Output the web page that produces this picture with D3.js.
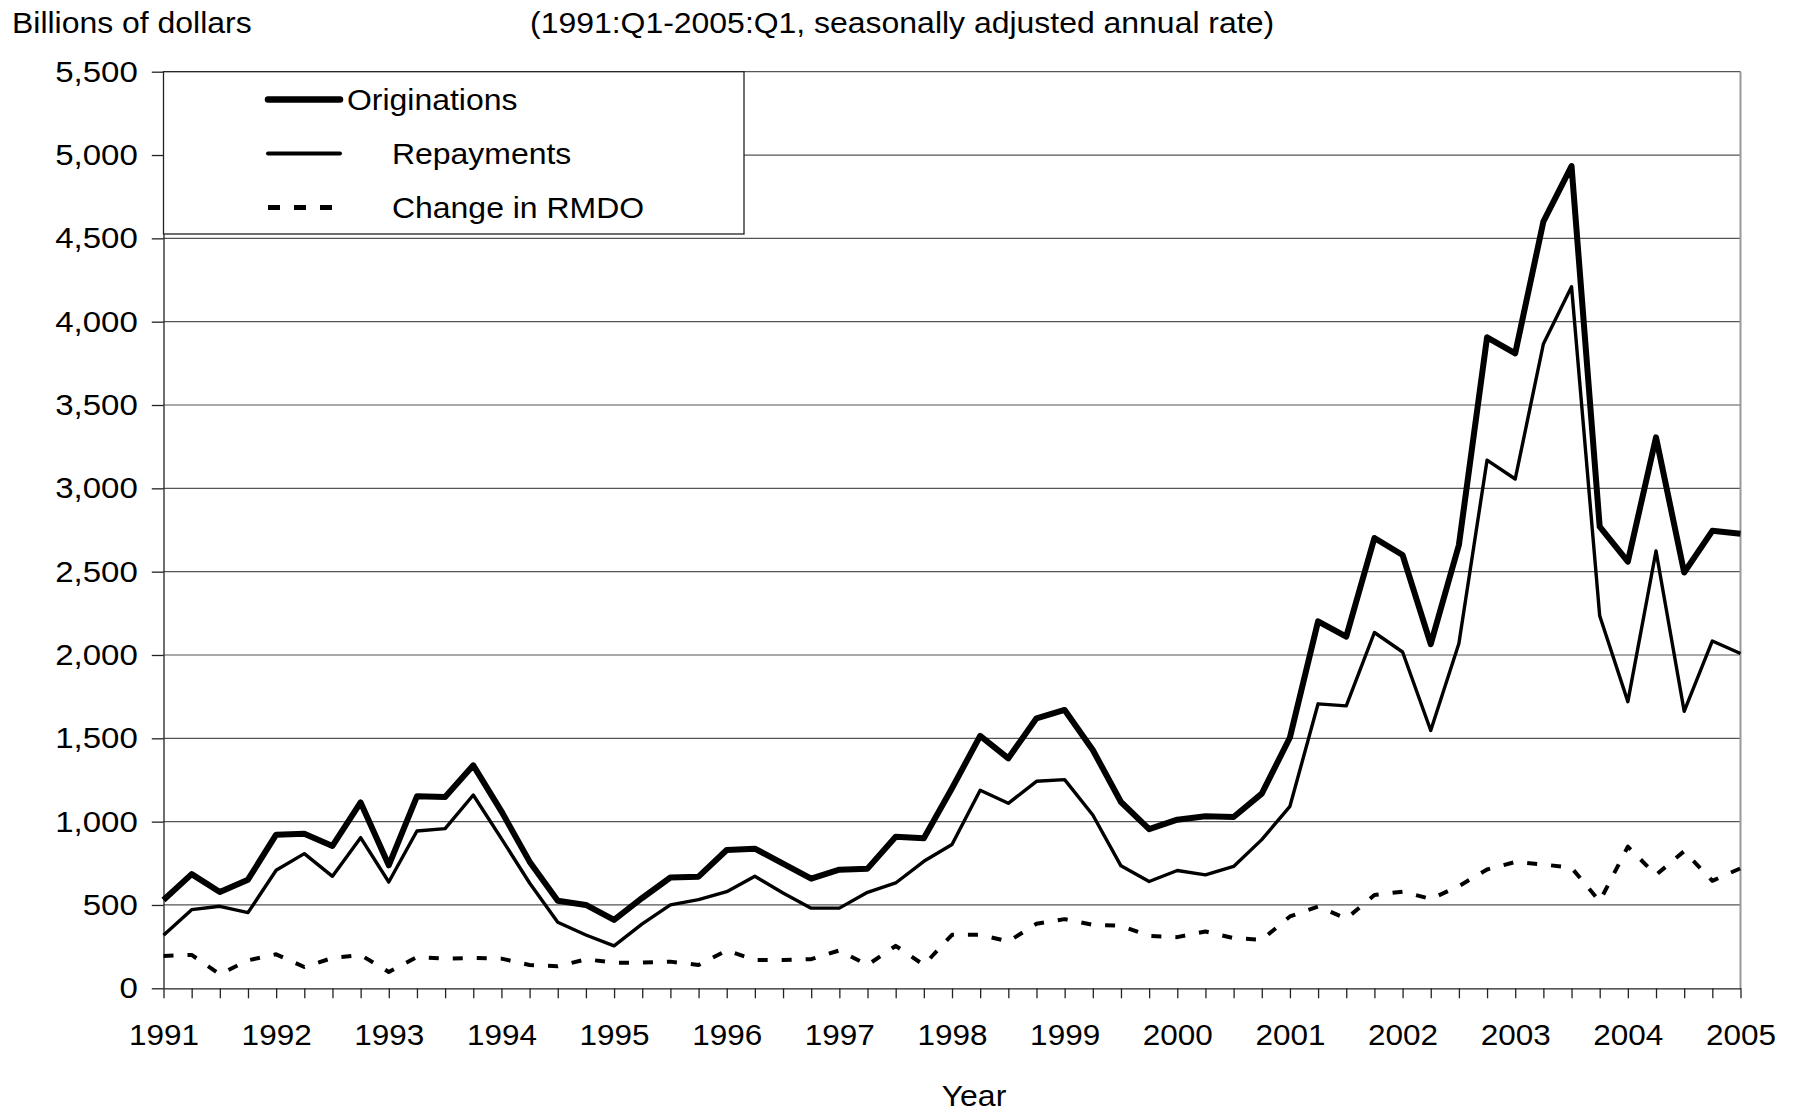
<!DOCTYPE html>
<html>
<head>
<meta charset="utf-8">
<script src="https://cdn.jsdelivr.net/npm/d3@7"></script>
<style>
  html, body { margin: 0; padding: 0; background: #fff; }
  svg text { font-family: "Liberation Sans", Arial, sans-serif; fill: #000; transform-box: fill-box; }
</style>
</head>
<body>
<div id="chart"></div>
<script>
// Quarterly values, 1991:Q1 .. 2005:Q1 (57 quarters), billions of dollars
const startYear = 1991;
const yearLabels = [1991, 1992, 1993, 1994, 1995, 1996, 1997, 1998, 1999, 2000, 2001, 2002, 2003, 2004, 2005];
const yTicks = [0, 500, 1000, 1500, 2000, 2500, 3000, 3500, 4000, 4500, 5000, 5500];

const originations = [
    530, 685, 578, 652, 922, 928, 854, 1115, 738, 1152, 1148, 1338,
    1062, 760, 525, 500, 410, 542, 665, 670, 830, 838, 748, 658,
    712, 718, 910, 900, 1200, 1515, 1380, 1620, 1670, 1430, 1118, 955,
    1012, 1032, 1028, 1168, 1505, 2202, 2110, 2702, 2600, 2065, 2660, 3906,
    3810, 4600, 4934, 2770, 2560, 3306, 2495, 2745, 2728
];
const repayments = [
    318, 472, 492, 454, 708, 808, 672, 904, 638, 944, 958, 1160,
    898, 632, 396, 320, 255, 387, 501, 532, 580, 672, 572, 481,
    481, 576, 632, 762, 863, 1188, 1110, 1242, 1252, 1040, 735, 641,
    707, 681, 731, 892, 1092, 1707, 1695, 2135, 2018, 1547, 2069, 3169,
    3056, 3866, 4210, 2235, 1720, 2624, 1662, 2084, 2009
];
const changeRMDO = [
    194, 200, 84, 168, 204, 128, 182, 200, 98, 188, 178, 182,
    178, 140, 132, 174, 154, 154, 160, 140, 227, 170, 170, 175,
    227, 140, 255, 140, 321, 321, 281, 387, 415, 381, 375, 315,
    307, 341, 301, 291, 431, 491, 418, 560, 580, 536, 613, 713,
    758, 743, 723, 522, 850, 680, 823, 645, 720
];

const seriesList = [
    {name: 'Originations', values: originations, width: 6, dash: null},
    {name: 'Repayments', values: repayments, width: 3.4, dash: null},
    {name: 'Change in RMDO', values: changeRMDO, width: 4, dash: '10,14'}
];

const W = 1797, H = 1114;
const plot = {left: 163.5, right: 1740.5, top: 71.7, bottom: 988.3};

// text in the original is a little wider than plain Arial
function widen(sel, k, origin) {
    sel.style('transform-origin', origin)
        .style('transform', `scaleX(${k})`);
}

const svg = d3.select('#chart')
    .append('svg')
    .attr('width', W)
    .attr('height', H);

// Scales (x in years, quarters as fractions)
const x = d3.scaleLinear()
    .domain([startYear, yearLabels[yearLabels.length - 1]])
    .range([plot.left, plot.right]);
const y = d3.scaleLinear()
    .domain([0, 5500])
    .range([plot.bottom, plot.top]);

const quarterTicks = d3.range(originations.length).map(i => startYear + i / 4);

// Gridlines
svg.append('g')
    .selectAll('line')
    .data(yTicks.filter(d => d > 0))
    .join('line')
    .attr('x1', plot.left)
    .attr('x2', plot.right)
    .attr('y1', d => y(d))
    .attr('y2', d => y(d))
    .attr('stroke', '#555')
    .attr('stroke-width', 1.2);

// Right border
svg.append('line')
    .attr('x1', plot.right).attr('x2', plot.right)
    .attr('y1', plot.top).attr('y2', plot.bottom)
    .attr('stroke', '#999')
    .attr('stroke-width', 2);

// Y axis
const yAxis = svg.append('g')
    .attr('transform', `translate(${plot.left},0)`)
    .call(d3.axisLeft(y)
        .tickValues(yTicks)
        .tickFormat(d3.format(','))
        .tickSize(11.7)
        .tickSizeOuter(0)
        .tickPadding(14));
yAxis.selectAll('text').style('font-size', '30px').call(widen, 1.1, 'right center');
yAxis.selectAll('line, path').attr('stroke', '#222').attr('stroke-width', 1.3);

// X axis: a tick every quarter, labels at year starts
const xAxis = svg.append('g')
    .attr('transform', `translate(0,${plot.bottom})`)
    .call(d3.axisBottom(x)
        .tickValues(quarterTicks)
        .tickFormat(d => Number.isInteger(d) ? String(d) : '')
        .tickSize(10)
        .tickSizeOuter(0)
        .tickPadding(25));
xAxis.selectAll('text').style('font-size', '30px').call(widen, 1.05, 'center');
xAxis.selectAll('line, path').attr('stroke', '#222').attr('stroke-width', 1.3);

// Titles
svg.append('text')
    .attr('x', 12)
    .attr('y', 33)
    .style('font-size', '30px')
    .text('Billions of dollars')
    .call(widen, 1.065, 'left center');

svg.append('text')
    .attr('x', 530)
    .attr('y', 33)
    .style('font-size', '30px')
    .text('(1991:Q1-2005:Q1, seasonally adjusted annual rate)')
    .call(widen, 1.065, 'left center');

svg.append('text')
    .attr('x', 974)
    .attr('y', 1106)
    .attr('text-anchor', 'middle')
    .style('font-size', '30px')
    .text('Year')
    .call(widen, 1.065, 'center');

// Legend box
const legend = svg.append('g');
legend.append('rect')
    .attr('x', plot.left)
    .attr('y', plot.top)
    .attr('width', 744 - plot.left)
    .attr('height', 234 - plot.top)
    .attr('fill', '#fff')
    .attr('stroke', '#222')
    .attr('stroke-width', 1.3);

const legendItems = [
    {s: seriesList[0], y: 99.5, textX: 347},
    {s: seriesList[1], y: 153.5, textX: 392},
    {s: seriesList[2], y: 207.5, textX: 392}
];

legendItems.forEach(item => {
    legend.append('line')
        .attr('x1', 268)
        .attr('x2', item.s.dash ? 336 : 340)
        .attr('y1', item.y)
        .attr('y2', item.y)
        .attr('stroke', '#000')
        .attr('stroke-width', item.s.dash ? 5 : item.s.width + 0.5)
        .attr('stroke-linecap', item.s.dash ? 'butt' : 'round')
        .attr('stroke-dasharray', item.s.dash ? '12,14' : null);
    legend.append('text')
        .attr('x', item.textX)
        .attr('y', item.y)
        .attr('dy', '0.36em')
        .style('font-size', '30px')
        .text(item.s.name)
        .call(widen, 1.065, 'left center');
});

// Series lines
const line = d3.line()
    .x((d, i) => x(startYear + i / 4))
    .y(d => y(d));

svg.append('g')
    .selectAll('path')
    .data(seriesList)
    .join('path')
    .attr('d', d => line(d.values))
    .attr('fill', 'none')
    .attr('stroke', '#000')
    .attr('stroke-width', d => d.width)
    .attr('stroke-linejoin', 'round')
    .attr('stroke-dasharray', d => d.dash);
</script>
</body>
</html>
